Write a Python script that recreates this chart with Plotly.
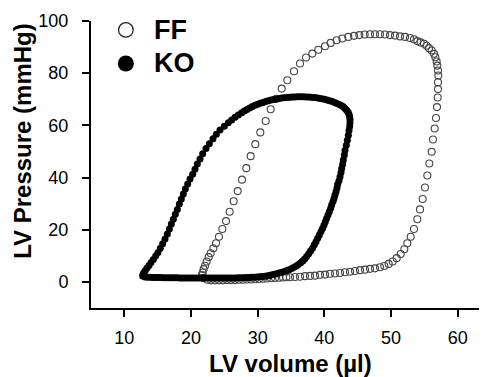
import plotly.graph_objects as go

# ---------------- data ----------------
ff_volume = [22.45, 23.0, 23.6, 24.2, 24.8, 25.4, 26.0, 26.6, 27.2, 27.8, 28.4, 29.0, 29.6, 30.2, 30.8,
             31.4, 32.0, 32.6, 33.2, 33.8, 34.3, 34.85, 35.6, 36.35, 37.1, 37.85, 38.6, 39.35, 40.1,
             40.85, 41.6, 42.35, 43.1, 43.85, 44.6, 45.35, 46.1, 46.85, 47.6, 48.35, 49.0, 49.65,
             50.25, 50.85, 51.45, 52.0, 52.45, 52.95, 53.45, 53.95, 54.35, 54.75, 55.1, 55.45, 55.75,
             56.1, 56.3, 56.55, 56.75, 56.9, 57.0, 57.05, 57.05, 57.1, 57.05, 56.95, 56.85, 56.65,
             56.45, 56.1, 55.7, 55.35, 54.95, 54.45, 53.95, 53.45, 52.85, 52.1, 51.35, 50.6, 49.85,
             49.1, 48.35, 47.6, 46.85, 46.05, 45.25, 44.45, 43.6, 42.7, 41.85, 40.95, 40.1, 39.1,
             38.2, 37.25, 36.35, 35.45, 34.45, 33.6, 32.8, 31.95, 31.2, 30.4, 29.65, 28.95, 28.3,
             27.65, 27.0, 26.4, 25.8, 25.25, 24.7, 24.2, 23.75, 23.35, 22.95, 22.65, 22.35, 22.1,
             21.9, 21.75, 21.65, 21.85]
ff_pressure = [0.8, 0.6, 0.6, 0.6, 0.6, 0.7, 0.7, 0.7, 0.8, 0.8, 0.9, 0.9, 1.0, 1.1, 1.2,
               1.3, 1.4, 1.5, 1.6, 1.7, 1.8, 1.8, 1.9, 2.0, 2.2, 2.3, 2.4, 2.7, 2.8,
               3.1, 3.2, 3.4, 3.7, 3.9, 4.2, 4.5, 4.7, 5.0, 5.2, 5.6, 6.1, 6.9,
               7.8, 9.1, 10.7, 12.5, 14.8, 17.3, 20.3, 24.0, 27.8, 31.8, 36.2, 40.8, 45.4,
               49.9, 54.6, 58.8, 62.8, 67.0, 70.7, 73.9, 76.5, 79.1, 81.0, 82.9, 84.5, 86.1,
               87.4, 88.7, 89.6, 90.5, 91.3, 91.8, 92.3, 93.0, 93.5, 93.9, 94.1, 94.4, 94.6,
               94.8, 94.9, 94.9, 94.9, 94.8, 94.6, 94.3, 93.9, 93.3, 92.6, 91.6, 90.3, 89.0,
               87.5, 86.0, 83.7, 80.75, 77.3, 74.1, 70.2, 66.2, 61.7, 57.3, 52.8, 48.2, 43.6,
               39.2, 34.8, 30.9, 26.9, 23.3, 20.3, 17.3, 14.8, 12.9, 11.0, 9.5, 7.8, 6.2,
               4.9, 3.6, 2.6, 1.5]

ko_volume = [13.1, 13.5, 13.9, 14.3, 14.7, 15.1, 15.5, 15.9, 16.3, 16.7, 17.1, 17.5, 17.9, 18.3,
             18.7, 19.1, 19.5, 19.9, 20.3, 20.7, 21.1, 21.5, 21.9, 22.3, 22.7, 23.1, 23.5, 23.9,
             24.3, 24.7, 25.1, 25.5, 25.9, 26.3, 26.7, 27.1, 27.5, 27.9, 28.3, 28.7, 29.1, 29.5,
             29.9, 30.3, 30.7, 31.1, 31.5, 31.9, 32.3, 32.7, 33.1, 33.5, 33.9, 34.3, 34.7, 35.1,
             35.45, 35.8, 36.1, 36.45, 36.75, 37.05, 37.35, 37.65, 37.95, 38.25, 38.5, 38.75, 39.0,
             39.25, 39.5, 39.75, 39.95, 40.15, 40.35, 40.55, 40.75, 40.95, 41.1, 41.3, 41.45, 41.6,
             41.75, 41.9, 42.0, 42.2, 42.35, 42.5, 42.6, 42.75, 42.85, 43.0, 43.1, 43.3, 43.45,
             43.6, 43.7, 43.8, 43.85, 43.85, 43.8, 43.7, 43.55, 43.35, 43.1, 42.85, 42.55, 42.25,
             41.9, 41.55, 41.2, 40.8, 40.4, 40.0, 39.6, 39.2, 38.8, 38.4, 38.0, 37.6, 37.2, 36.8,
             36.4, 36.0, 35.6, 35.2, 34.8, 34.4, 34.0, 33.6, 33.2, 32.8, 32.4, 32.0, 31.6, 31.2,
             30.8, 30.4, 30.0, 29.6, 29.2, 28.8, 28.4, 28.0, 27.6, 27.1, 26.6, 26.1, 25.6, 25.0,
             24.35, 23.8, 23.3, 22.75, 22.25, 21.75, 21.35, 20.95, 20.6, 20.25, 19.85, 19.5,
             19.15, 18.85, 18.55, 18.25, 17.95, 17.65, 17.35, 17.05, 16.75, 16.45, 16.1, 15.75,
             15.4, 15.05, 14.7, 14.35, 14.0, 13.7, 13.4, 13.15, 12.95, 12.8, 12.75]
ko_pressure = [1.9, 1.8, 1.8, 1.7, 1.7, 1.7, 1.7, 1.6, 1.6, 1.6, 1.6, 1.6, 1.6, 1.5,
               1.5, 1.5, 1.5, 1.5, 1.5, 1.5, 1.5, 1.5, 1.5, 1.5, 1.5, 1.5, 1.5, 1.5,
               1.5, 1.5, 1.5, 1.5, 1.5, 1.5, 1.5, 1.6, 1.6, 1.6, 1.7, 1.7, 1.8, 1.8,
               1.9, 2.0, 2.1, 2.2, 2.4, 2.6, 2.8, 3.0, 3.3, 3.6, 3.9, 4.3, 4.7, 5.1,
               5.6, 6.1, 6.7, 7.3, 8.0, 8.8, 9.7, 10.8, 11.9, 13.0, 14.2, 15.4, 16.7,
               18.0, 19.3, 20.6, 21.8, 23.1, 24.4, 25.6, 26.9, 28.2, 29.5, 30.8, 32.0, 33.3,
               34.6, 36.0, 37.4, 38.8, 40.3, 41.9, 43.5, 45.1, 46.7, 48.6, 50.5, 52.4, 54.3,
               56.2, 58.0, 59.6, 61.0, 62.2, 63.3, 64.3, 65.1, 65.8, 66.5, 67.1, 67.6, 68.0,
               68.4, 68.8, 69.1, 69.4, 69.7, 70.0, 70.2, 70.4, 70.6, 70.7, 70.8, 70.9, 70.9, 71.0,
               71.0, 71.0, 70.9, 70.9, 70.8, 70.7, 70.6, 70.5, 70.3, 70.1, 69.9, 69.7, 69.4, 69.1,
               68.8, 68.5, 68.1, 67.7, 67.2, 66.7, 66.1, 65.5, 64.8, 64.0, 63.1, 62.1, 61.0, 59.7,
               58.2, 56.6, 54.9, 53.0, 51.1, 49.1, 47.1, 45.2, 43.2, 41.3, 39.4, 37.5,
               35.6, 33.7, 31.8, 29.9, 27.8, 25.9, 24.0, 22.2, 20.3, 18.4, 16.4, 14.6,
               12.9, 11.3, 9.9, 8.6, 7.4, 6.3, 5.3, 4.4, 3.6, 2.9, 2.3]

series_names = ["FF", "KO"]
x_ticks = [10, 20, 30, 40, 50, 60]
y_ticks = [0, 20, 40, 60, 80, 100]
x_title = "LV volume (\u00b5l)"
y_title = "LV Pressure (mmHg)"

FONT = "Liberation Sans, Arial, sans-serif"

fig = go.Figure()
fig.add_trace(go.Scatter(
    x=ff_volume, y=ff_pressure, mode="markers", name=series_names[0], showlegend=False,
    marker=dict(symbol="circle-open", size=7, color="#444444", line=dict(width=1.1, color="#444444")),
))
fig.add_trace(go.Scatter(
    x=ko_volume, y=ko_pressure, mode="markers", name=series_names[1], showlegend=False,
    marker=dict(symbol="circle", size=7, color="#000000", line=dict(width=0)),
))

# manual legend
leg_x = 0.088
leg_y = [0.969, 0.852]
fig.add_shape(type="circle", xref="paper", yref="paper", xsizemode="pixel", ysizemode="pixel",
              xanchor=leg_x, yanchor=leg_y[0], x0=-7.3, x1=7.3, y0=-7.3, y1=7.3,
              line=dict(color="#222222", width=1.3), fillcolor="white")
fig.add_shape(type="circle", xref="paper", yref="paper", xsizemode="pixel", ysizemode="pixel",
              xanchor=leg_x, yanchor=leg_y[1], x0=-8, x1=8, y0=-8, y1=8,
              line=dict(color="black", width=0), fillcolor="black")
for name, yy in zip(series_names, leg_y):
    fig.add_annotation(text="<b>%s</b>" % name, xref="paper", yref="paper", x=0.155, y=yy,
                       xanchor="left", yanchor="middle", showarrow=False,
                       font=dict(family=FONT, size=27, color="black"))

fig.add_annotation(text="<b>%s</b>" % x_title, xref="paper", yref="paper", x=0.505, y=-0.195,
                   xanchor="center", yanchor="middle", showarrow=False,
                   font=dict(family=FONT, size=24, color="black"))
fig.add_annotation(text="<b>%s</b>" % y_title, xref="paper", yref="paper", x=-0.172, y=0.582,
                   xanchor="center", yanchor="middle", showarrow=False, textangle=-90,
                   font=dict(family=FONT, size=24, color="black"))

fig.update_xaxes(range=[5, 64.4], tickvals=x_ticks, showgrid=False, zeroline=False,
                 showline=True, linecolor="black", linewidth=2,
                 ticks="outside", ticklen=7, tickwidth=2, tickcolor="black",
                 ticklabelstandoff=5,
                 tickfont=dict(family=FONT, size=18, color="black"))
fig.update_yaxes(range=[-10, 100], tickvals=y_ticks, showgrid=False, zeroline=False,
                 showline=True, linecolor="black", linewidth=2,
                 ticks="outside", ticklen=7, tickwidth=2, tickcolor="black",
                 ticklabelstandoff=10,
                 tickfont=dict(family=FONT, size=18, color="black"))

# the page body adds an 8px margin, so the figure is 8px smaller than the window
fig.update_layout(width=479, height=369, margin=dict(l=83, r=0, t=13, b=69),
                  plot_bgcolor="white", paper_bgcolor="white", showlegend=False)

fig.write_html("out.html")
